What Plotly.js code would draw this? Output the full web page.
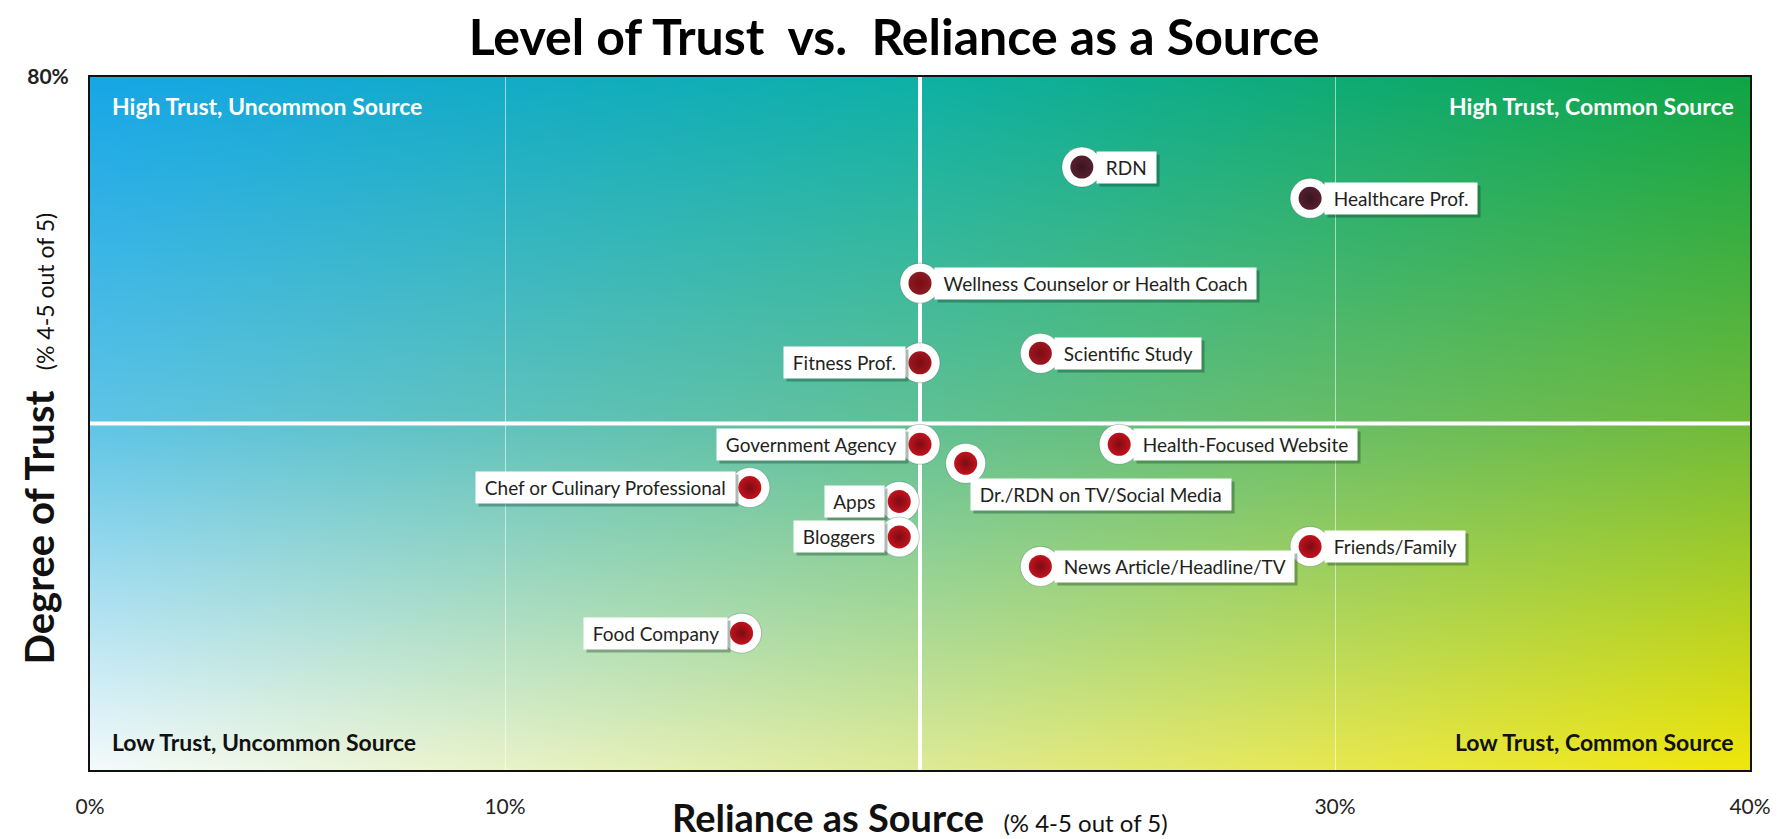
<!DOCTYPE html>
<html>
<head>
<meta charset="utf-8">
<script src="https://cdn.plot.ly/plotly-3.0.1.min.js"></script>
<style>
html,body{margin:0;padding:0;background:#ffffff;}
#chart{width:1788px;height:839px;}
</style>
</head>
<body>
<div id="chart"></div>
<script>
// ---------------- DATA ----------------
const categories = [
  'RDN',
  'Healthcare Prof.',
  'Wellness Counselor or Health Coach',
  'Fitness Prof.',
  'Scientific Study',
  'Government Agency',
  'Health-Focused Website',
  'Dr./RDN on TV/Social Media',
  'Chef or Culinary Professional',
  'Apps',
  'Bloggers',
  'Friends/Family',
  'News Article/Headline/TV',
  'Food Company'
];
// Reliance as source (% 4-5 out of 5)
const reliance = [23.9, 29.4, 20.0, 20.0, 22.9, 20.0, 24.8, 21.1, 15.9, 19.5, 19.5, 29.4, 22.9, 15.7];
// Degree of trust (% 4-5 out of 5)
const trust    = [69.6, 66.0, 56.2, 47.0, 48.1, 37.6, 37.6, 35.4, 32.6, 31.0, 26.9, 25.8, 23.5, 15.8];

const xTickVals = [0, 10, 30, 40];
const xTickText = ['0%', '10%', '30%', '40%'];
const yTickVals = [80];
const yTickText = ['<b>80%</b>'];
const midReliance = 20;
const midTrust = 40;

const quadrantTitles = [
  'High Trust, Uncommon Source',
  'High Trust, Common Source',
  'Low Trust, Uncommon Source',
  'Low Trust, Common Source'
];
const chartTitle = 'Level of Trust\u00a0 vs.\u00a0 Reliance as a Source';
const xTitle = 'Reliance as Source';
const yTitle = 'Degree of Trust';
const axisSubtitle = '(% 4-5 out of 5)';

// ---------------- LAYOUT / STYLE ----------------
const W = 1788, H = 839;
const M = {l: 90, r: 38, t: 77, b: 69};
const PW = W - M.l - M.r, PH = H - M.t - M.b;
const X_RANGE = [0, 40];
const Y_RANGE = [0, 80];
const headFont = 'Lato, "Open Sans", sans-serif';
const labelFont = 'Lato, "Open Sans", sans-serif';
// label placement: r = right of point, l = left, br = below right
const labelSide = ['r','r','r','l','r','l','r','br','l','l','l','r','r','l'];

function dotColor(t) {
  if (t >= 60) return '#55202f';
  if (t >= 50) return '#8a1b24';
  if (t >= 45) return '#a0161f';
  return '#c3121d';
}
function edgeColor(t) {
  if (t >= 60) return '#3a1420';
  return '#7c0c13';
}

// background gradient (3x3 colour grid, bilinear)
function gradientImage(w, h) {
  const G = [
    [[22,166,230],[14,176,165],[14,164,70]],
    [[95,196,230],[96,192,148],[112,186,58]],
    [[244,250,251],[222,234,150],[240,230,10]]
  ];
  const c = document.createElement('canvas');
  c.width = w; c.height = h;
  const ctx = c.getContext('2d');
  const img = ctx.createImageData(w, h);
  const d = img.data;
  for (let y = 0; y < h; y++) {
    const v = y / (h - 1) * 2;
    const j = Math.min(Math.floor(v), 1), fv = v - j;
    for (let x = 0; x < w; x++) {
      const u = x / (w - 1) * 2;
      const i = Math.min(Math.floor(u), 1), fu = u - i;
      const p = (y * w + x) * 4;
      for (let k = 0; k < 3; k++) {
        const top = G[j][i][k] * (1 - fu) + G[j][i+1][k] * fu;
        const bot = G[j+1][i][k] * (1 - fu) + G[j+1][i+1][k] * fu;
        d[p + k] = Math.round(top * (1 - fv) + bot * fv);
      }
      d[p + 3] = 255;
    }
  }
  ctx.putImageData(img, 0, 0);
  return c.toDataURL('image/png');
}

// ---------------- TRACES ----------------
const halo = {
  type: 'scatter', mode: 'markers',
  x: reliance, y: trust,
  marker: {size: 40, color: '#ffffff', line: {width: 1, color: 'rgba(0,60,30,0.25)'}},
  hoverinfo: 'skip', showlegend: false
};
const dots = {
  type: 'scatter', mode: 'markers',
  x: reliance, y: trust, text: categories,
  marker: {
    size: 23,
    color: trust.map(dotColor),
    gradient: {type: 'radial', color: trust.map(edgeColor)},
    line: {width: 0}
  },
  hovertemplate: '%{text}<br>Reliance: %{x}%<br>Trust: %{y}%<extra></extra>',
  showlegend: false
};

// ---------------- ANNOTATIONS ----------------
const annotations = [];
categories.forEach((name, i) => {
  const side = labelSide[i];
  let xanchor = 'left', xshift = 14, yshift = 0;
  if (side === 'l') { xanchor = 'right'; xshift = -14; }
  if (side === 'br') { xanchor = 'left'; xshift = 4; yshift = -31; }
  const txt = '\u00a0' + name + '\u00a0';
  // shadow
  annotations.push({
    x: reliance[i], y: trust[i], xref: 'x', yref: 'y', text: txt, showarrow: false,
    xanchor: xanchor, yanchor: 'middle', xshift: xshift + 3, yshift: yshift - 3,
    bgcolor: 'rgba(0,40,20,0.32)', borderpad: 4,
    font: {family: labelFont, size: 19, color: 'rgba(0,0,0,0)'}
  });
  annotations.push({
    x: reliance[i], y: trust[i], xref: 'x', yref: 'y', text: txt, showarrow: false,
    xanchor: xanchor, yanchor: 'middle', xshift: xshift, yshift: yshift,
    bgcolor: '#ffffff', borderpad: 4,
    font: {family: labelFont, size: 19, color: '#231f20'}
  });
});

// quadrant titles
const qPos = [
  {x: 0, y: 1, xanchor: 'left', yanchor: 'top', xshift: 20, yshift: -13, color: '#ffffff'},
  {x: 1, y: 1, xanchor: 'right', yanchor: 'top', xshift: -14, yshift: -13, color: '#ffffff'},
  {x: 0, y: 0, xanchor: 'left', yanchor: 'bottom', xshift: 20, yshift: 12, color: '#111111'},
  {x: 1, y: 0, xanchor: 'right', yanchor: 'bottom', xshift: -14, yshift: 12, color: '#111111'}
];
quadrantTitles.forEach((t, i) => {
  const p = qPos[i];
  annotations.push({
    x: p.x, y: p.y, xref: 'paper', yref: 'paper', text: '<b>' + t + '</b>', showarrow: false,
    xanchor: p.xanchor, yanchor: p.yanchor, xshift: p.xshift, yshift: p.yshift,
    font: {family: headFont, size: 23, color: p.color}
  });
});

// axis titles
annotations.push({
  x: 0.5, y: 0, xref: 'paper', yref: 'paper', showarrow: false,
  text: '<b>' + xTitle + '</b>\u00a0\u00a0<span style="font-size:24px">' + axisSubtitle + '</span>',
  xanchor: 'center', yanchor: 'middle', yshift: -47,
  font: {family: headFont, size: 38, color: '#111111'}
});
annotations.push({
  x: 0, y: 0.5, xref: 'paper', yref: 'paper', showarrow: false, textangle: -90,
  text: '<b>' + yTitle + '</b>\u00a0\u00a0<span style="font-size:23px">' + axisSubtitle + '</span>',
  xanchor: 'center', yanchor: 'middle', xshift: -52, yshift: -15,
  font: {family: headFont, size: 40, color: '#111111'}
});

// ---------------- LAYOUT ----------------
const layout = {
  width: W, height: H,
  margin: M,
  paper_bgcolor: '#ffffff',
  plot_bgcolor: 'rgba(0,0,0,0)',
  showlegend: false,
  title: {
    text: '<b>' + chartTitle + '</b>',
    font: {family: headFont, size: 50, color: '#000000'},
    x: 0.5, xref: 'container', xanchor: 'center',
    y: 1 - 37 / H, yref: 'container', yanchor: 'middle'
  },
  xaxis: {
    range: X_RANGE, fixedrange: true,
    tickvals: xTickVals, ticktext: xTickText,
    ticks: '', ticklabelstandoff: 17,
    tickfont: {family: headFont, size: 21, color: '#222222'},
    showgrid: true, gridcolor: 'rgba(255,255,255,0.55)', gridwidth: 1,
    zeroline: false,
    showline: true, mirror: true, linecolor: '#111111', linewidth: 2
  },
  yaxis: {
    range: Y_RANGE, fixedrange: true,
    tickvals: yTickVals, ticktext: yTickText,
    ticks: '', ticklabelstandoff: 15,
    tickfont: {family: headFont, size: 21, color: '#222222'},
    showgrid: false, zeroline: false,
    showline: true, mirror: true, linecolor: '#111111', linewidth: 2
  },
  images: [{
    source: gradientImage(PW, PH),
    xref: 'paper', yref: 'paper', x: 0, y: 1, sizex: 1, sizey: 1,
    xanchor: 'left', yanchor: 'top', sizing: 'stretch', layer: 'below'
  }],
  shapes: [
    {type: 'line', xref: 'x', yref: 'paper', x0: midReliance, x1: midReliance, y0: 0, y1: 1,
     line: {color: '#ffffff', width: 4}, layer: 'below'},
    {type: 'line', xref: 'paper', yref: 'y', x0: 0, x1: 1, y0: midTrust, y1: midTrust,
     line: {color: '#ffffff', width: 4}, layer: 'below'}
  ],
  annotations: annotations
};

Plotly.newPlot('chart', [halo, dots], layout, {displayModeBar: false});
</script>
</body>
</html>
